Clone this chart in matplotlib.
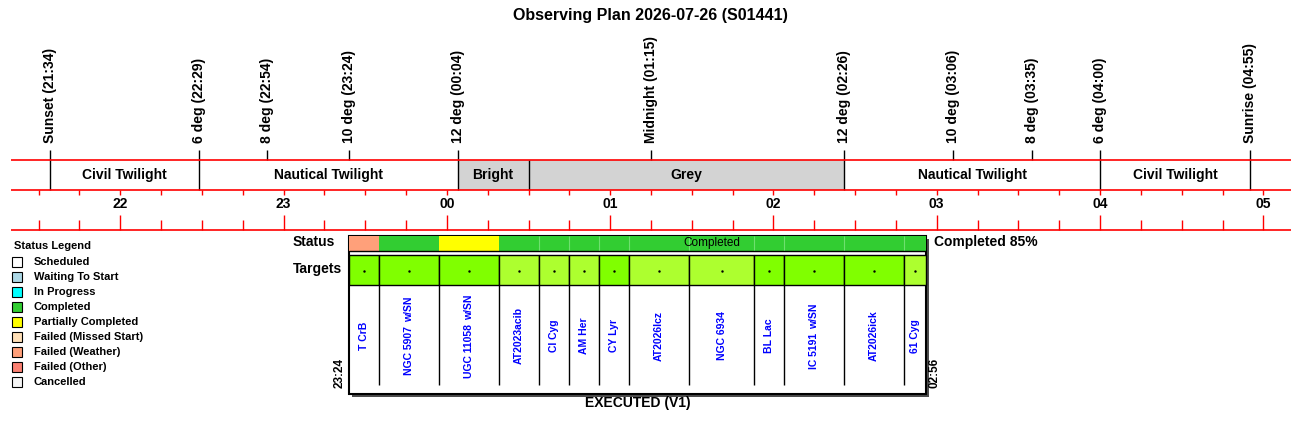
import matplotlib
matplotlib.use("Agg")
import matplotlib.pyplot as plt
import matplotlib.patheffects as pe
from matplotlib.patches import Rectangle
import numpy as np

plt.rcParams['font.family'] = ['Liberation Sans', 'DejaVu Sans']

title = "Observing Plan 2026-07-26 (S01441)"

# sun / twilight events along the top
event_labels = ["Sunset", "6 deg", "8 deg", "10 deg", "12 deg", "Midnight",
                "12 deg", "10 deg", "8 deg", "6 deg", "Sunrise"]
event_times = ["21:34", "22:29", "22:54", "23:24", "00:04", "01:15",
               "02:26", "03:06", "03:35", "04:00", "04:55"]

# twilight / moon band
band_labels = ["Civil Twilight", "Nautical Twilight", "Bright", "Grey",
               "Nautical Twilight", "Civil Twilight"]
band_edges = ["21:34", "22:29", "00:04", "00:30", "02:26", "04:00", "04:55"]
band_shaded = [False, False, True, True, False, False]

hour_labels = ["22", "23", "00", "01", "02", "03", "04", "05"]
axis_from, axis_to = "21:20", "05:10"

# executed plan
target_names = ["T CrB", "NGC 5907", "UGC 11058", "AT2023acib", "CI Cyg", "AM Her",
                "CY Lyr", "AT2026lcz", "NGC 6934", "BL Lac", "IC 5191", "AT2026ick",
                "61 Cyg"]
target_notes = ["", "w/SN", "w/SN", "", "", "", "", "", "", "", "w/SN", "", ""]
target_starts = ["23:24", "23:35", "23:57", "00:19", "00:34", "00:45", "00:56",
                 "01:07", "01:29", "01:53", "02:04", "02:26", "02:48"]
plan_end = "02:56"
target_shade = [0, 0, 0, 1, 1, 1, 0, 1, 1, 0, 0, 0, 1]
target_status = ["Failed (Weather)", "Completed", "Partially Completed",
                 "Completed", "Completed", "Completed", "Completed", "Completed",
                 "Completed", "Completed", "Completed", "Completed", "Completed"]
completed_pct = 85
plan_version = "EXECUTED (V1)"

status_names = ["Scheduled", "Waiting To Start", "In Progress", "Completed",
                "Partially Completed", "Failed (Missed Start)", "Failed (Weather)",
                "Failed (Other)", "Cancelled"]
status_colors = ["#FFFFFF", "#ADD8E6", "#00FFFF", "#32CD32", "#FFFF00",
                 "#FFE0B8", "#FFA07A", "#FA8072", "#F5F5F5"]
shade_colors = ["#80FF00", "#ADFF2F"]


def hrs(s):
    h, m = s.split(":")
    v = int(h) + float(m) / 60
    return v + 24 if v < 12 else v


fig = plt.figure(figsize=(13, 4.25), dpi=100)
ax = fig.add_axes([0, 0, 1, 1])
ax.set_xlim(21.2633, 29.2246)
ax.set_ylim(425, 0)
ax.axis("off")
lay = fig.add_axes([0, 0, 1, 1], zorder=-1)
lay.set_xlim(0, 1300)
lay.set_ylim(425, 0)
lay.axis("off")

fig.text(0.5, 1 - 15.5 / 425, title, ha="center", va="center", fontsize=11.5, weight="bold")

# events
for lab, t in zip(event_labels, event_times):
    x = hrs(t)
    ax.vlines(x, 150, 160, color="black", lw=1)
    ax.text(x, 143, f"{lab} ({t})", rotation=90, ha="center", va="bottom",
            fontsize=10, weight="bold")

# band
for i, lab in enumerate(band_labels):
    x0, x1 = hrs(band_edges[i]), hrs(band_edges[i + 1])
    if band_shaded[i]:
        ax.add_patch(Rectangle((x0, 160), x1 - x0, 30, facecolor="#D3D3D3", edgecolor="none"))
    ax.text((x0 + x1) / 2, 174.5, lab, ha="center", va="center", fontsize=10, weight="bold")
ax.vlines([hrs(t) for t in band_edges], 160, 190, color="black", lw=1)

# time axis
a0, a1 = hrs(axis_from), hrs(axis_to)
ax.hlines([160, 190, 230], a0, a1, color="red", lw=1.2, zorder=3)
hours = [hrs(h + ":00") for h in hour_labels]
quarters = np.arange(21.5, 29.01, 0.25)
minors = [q for q in quarters if abs(q - round(q)) > 0.01]
ax.vlines(quarters, 190, 195, color="red", lw=1)
ax.vlines(minors, 220, 230, color="red", lw=1)
ax.vlines(hours, 215, 230, color="red", lw=1)
for lab, x in zip(hour_labels, hours):
    ax.text(x, 204, lab, ha="center", va="center", fontsize=10, weight="bold")

# plan box
starts = [hrs(t) for t in target_starts]
ends = starts[1:] + [hrs(plan_end)]
p0, p1 = starts[0], ends[-1]
box = Rectangle((p0, 236), p1 - p0, 158, facecolor="white", edgecolor="black", lw=1.5,
                zorder=1, path_effects=[pe.withSimplePatchShadow(offset=(2, -2),
                                                                 shadow_rgbFace="0.3", alpha=1)])
ax.add_patch(box)

# status row, merging consecutive equal statuses
i = 0
while i < len(target_status):
    j = i
    while j + 1 < len(target_status) and target_status[j + 1] == target_status[i]:
        j += 1
    st = target_status[i]
    col = status_colors[status_names.index(st)]
    ax.add_patch(Rectangle((starts[i], 236), ends[j] - starts[i], 15, facecolor=col,
                           edgecolor="none", zorder=2))
    for k in range(i + 1, j + 1):
        ax.vlines(starts[k], 236, 251, color="#6EE06E", lw=0.8, zorder=2)
    if ends[j] - starts[i] > 1.0:
        ax.text((starts[i] + ends[j]) / 2, 242.5, st, ha="center", va="center",
                fontsize=8.5, zorder=3)
    i = j + 1
ax.hlines(251, p0, p1, color="black", lw=1, zorder=3)

# targets row
mids = []
for s, e, sh in zip(starts, ends, target_shade):
    ax.add_patch(Rectangle((s, 255), e - s, 30, facecolor=shade_colors[sh],
                           edgecolor="black", lw=1, zorder=2))
    mids.append((s + e) / 2)
ax.plot(mids, [270.5] * len(mids), "k.", ms=1.5, zorder=3)
ax.vlines(starts[1:], 285, 385, color="black", lw=1, zorder=2)

pairs = []
for m, name, note in zip(mids, target_names, target_notes):
    a = ax.annotate(name, (m, 336), xytext=(0, 0), textcoords="offset pixels",
                    rotation=90, ha="center", va="center", fontsize=7.5,
                    weight="bold", color="#0000FF", zorder=3)
    b = None
    if note:
        b = ax.annotate(note, (m, 336), xytext=(0, 0), textcoords="offset pixels",
                        rotation=90, ha="center", va="center", fontsize=7.5,
                        weight="bold", color="#0000FF", zorder=3)
    pairs.append((a, b))

ax.annotate(target_starts[0], (p0, 388), xytext=(-9, 0), textcoords="offset pixels",
            rotation=90, ha="center", va="bottom", fontsize=8.5, weight="bold")
ax.annotate(plan_end, (p1, 388), xytext=(9, 0), textcoords="offset pixels",
            rotation=90, ha="center", va="bottom", fontsize=8.5, weight="bold")
ax.annotate(f"Completed {completed_pct}%", (p1, 242), xytext=(8, 0),
            textcoords="offset pixels", ha="left", va="center", fontsize=10, weight="bold")
ax.text((p0 + p1) / 2, 403.5, plan_version, ha="center", va="center", fontsize=10,
        weight="bold")

# row labels and legend
lay.text(293, 241.5, "Status", ha="left", va="center", fontsize=10, weight="bold")
lay.text(293, 269, "Targets", ha="left", va="center", fontsize=10, weight="bold")
lay.text(14, 246, "Status Legend", ha="left", va="center", fontsize=8, weight="bold")
for k, (nm, col) in enumerate(zip(status_names, status_colors)):
    y = 262.3 + 15 * k
    lay.add_patch(Rectangle((11.5, y - 5), 10, 10, facecolor=col, edgecolor="black", lw=0.8))
    lay.text(33.5, y, nm, ha="left", va="center", fontsize=8, weight="bold")

# shift name / note pairs so they are centred together
fig.canvas.draw()
r = fig.canvas.get_renderer()
gap = 4
for a, b in pairs:
    if b is None:
        continue
    hm = a.get_window_extent(r).height
    hn = b.get_window_extent(r).height
    a.xyann = (0, -(gap + hn) / 2)
    b.xyann = (0, (hm + gap) / 2)

fig.savefig("out.png", dpi=100)
